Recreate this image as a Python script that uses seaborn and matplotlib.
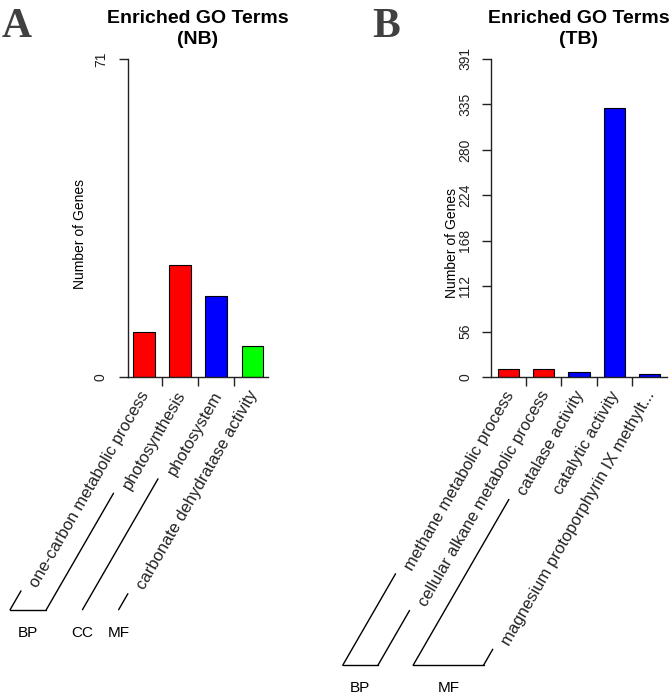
import numpy as np
import pandas as pd
import matplotlib
matplotlib.use("Agg")
import matplotlib.pyplot as plt
import matplotlib.transforms as mtrans
from matplotlib.lines import Line2D
import seaborn as sns

# ---------------- data ----------------
nb_terms = ["one-carbon metabolic process", "photosynthesis", "photosystem",
            "carbonate dehydratase activity"]
nb_counts = [10, 25, 18, 7]
nb_groups = ["BP", "BP", "CC", "MF"]
nb_ymax = 71
nb_ytick_labels = ["0", "71"]
nb_title = "Enriched GO Terms\n(NB)"

tb_terms = ["methane metabolic process", "cellular alkane metabolic process",
            "catalase activity", "catalytic activity",
            "magnesium protoporphyrin IX methylt..."]
tb_counts = [10, 10, 6, 331, 4]
tb_groups = ["BP", "BP", "MF", "MF", "MF"]
tb_ymax = 391
tb_ytick_labels = ["0", "56", "112", "168", "224", "280", "335", "391"]
tb_title = "Enriched GO Terms\n(TB)"

# ---------------- styles ----------------
nb_colors = ["#FF0000", "#FF0000", "#0000FF", "#00FF00"]
tb_colors = ["#FF0000", "#FF0000", "#0000FF", "#0000FF", "#0000FF"]

sns.set_theme(style="ticks", rc={
    "axes.edgecolor": "#222222", "xtick.color": "#222222", "ytick.color": "#222222",
    "axes.linewidth": 1.0, "text.color": "black", "axes.labelcolor": "black",
})
plt.rcParams['font.family'] = ['Liberation Sans', 'DejaVu Sans']

W, H = 672, 694
fig = plt.figure(figsize=(W / 100, H / 100), dpi=100)


def px_axes(l, t, r, b):
    return fig.add_axes([l / W, 1 - b / H, (r - l) / W, (b - t) / H])


axA = px_axes(128, 59, 268, 377)
axB = px_axes(491, 59, 667, 377)

ANG = np.deg2rad(60)
C, S = np.cos(ANG), np.sin(ANG)
LBL_DX, LBL_DY = 2.0, -15.0


def draw_panel(ax, terms, counts, colors, ymax, ylabels, title, xlim, ylab_xy, ytick_pad):
    n = len(terms)
    df = pd.DataFrame({"term": terms, "count": counts})
    sns.barplot(data=df, x="term", y="count", hue="term", order=terms, hue_order=terms,
                palette=colors, legend=False, width=0.6, edgecolor="black",
                linewidth=0.8, saturation=1, ax=ax)
    ax.set_xlim(*xlim)
    ax.set_ylim(0, ymax)
    yt = np.linspace(0, ymax, len(ylabels))
    ax.set_yticks(yt, ylabels)
    ax.tick_params(axis="y", length=6.5, width=1, direction="out", pad=ytick_pad,
                   labelsize=10, labelrotation=90)
    for lbl in ax.get_yticklabels():
        lbl.set_va("center")
    ax.set_xticks(range(n))
    ax.set_xticklabels(terms, rotation=60, ha="right", va="center",
                       rotation_mode="anchor", fontsize=12)
    ax.set_xticks([k + 0.5 for k in range(n - 1)], minor=True)
    ax.tick_params(axis="x", which="major", length=0, pad=0)
    ax.tick_params(axis="x", which="minor", length=6.5, width=1, direction="out")
    off = mtrans.ScaledTranslation(LBL_DX / 100, LBL_DY / 100, fig.dpi_scale_trans)
    for lbl in ax.get_xticklabels():
        lbl.set_transform(lbl.get_transform() + off)
    ax.set_xlabel("")
    ax.set_ylabel("Number of Genes", fontsize=10)
    ax.yaxis.set_label_coords(*ylab_xy)
    ax.set_title(title, fontsize=14, fontweight="bold", pad=11, linespacing=1.25)
    sns.despine(ax=ax)


draw_panel(axA, nb_terms, nb_counts, nb_colors, nb_ymax, nb_ytick_labels, nb_title,
           (-0.44, 3.43), (-0.29, 0.45), 8)
draw_panel(axB, tb_terms, tb_counts, tb_colors, tb_ymax, tb_ytick_labels, tb_title,
           (-0.5, 4.5), (-0.18, 0.42), 7)

# panel letters
for x, letter in [(2, "A"), (372, "B")]:
    fig.text(x / W, 1 - 37 / H, letter, fontsize=30, fontweight="bold",
             family=["Liberation Serif", "DejaVu Serif"], color="#404040",
             ha="left", va="baseline")

# ------------- group brackets -------------
fig.canvas.draw()
renderer = fig.canvas.get_renderer()
to_fig = fig.transFigure.inverted()


def draw_brackets(ax, terms, groups):
    tops, starts = [], []
    lbls = ax.get_xticklabels()
    for i, lbl in enumerate(lbls):
        anchor = ax.transData.transform((i, 0)) + np.array([LBL_DX, LBL_DY])
        L = renderer.get_text_width_height_descent(lbl.get_text(), lbl.get_fontproperties(),
                                                    ismath=False)[0]
        start = anchor - L * np.array([C, S])
        starts.append(start)
        tops.append(start + np.array([-13.0, -5.0]))
    yb = min(s[1] for s in starts) - 21
    bottoms = []
    for top in tops:
        t = (top[1] - yb) / S
        bottoms.append(top - t * np.array([C, S]))
    order = []
    for g in groups:
        if g not in order:
            order.append(g)
    for g in order:
        idx = [i for i, gg in enumerate(groups) if gg == g]
        ends = [idx[0]] if len(idx) == 1 else [idx[0], idx[-1]]
        for i in ends:
            p = to_fig.transform([tops[i], bottoms[i]])
            fig.add_artist(Line2D(p[:, 0], p[:, 1], color="black", lw=1.0,
                                  transform=fig.transFigure))
        b0, b1 = bottoms[idx[0]], bottoms[idx[-1]]
        if len(idx) > 1:
            p = to_fig.transform([b0, b1])
            fig.add_artist(Line2D(p[:, 0], p[:, 1], color="black", lw=1.0,
                                  transform=fig.transFigure))
        cx = (b0[0] + b1[0]) / 2
        q = to_fig.transform([(cx, yb - 23)])[0]
        fig.text(q[0], q[1], g, fontsize=11, ha="center", va="center")


draw_brackets(axA, nb_terms, nb_groups)
draw_brackets(axB, tb_terms, tb_groups)

fig.savefig("out.png", dpi=100)
